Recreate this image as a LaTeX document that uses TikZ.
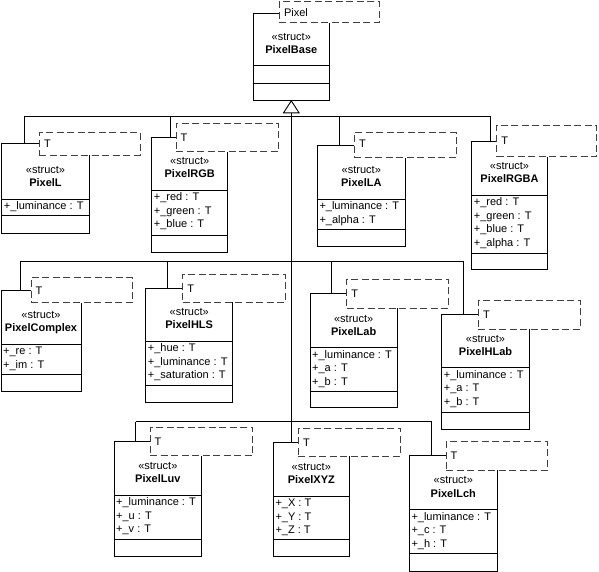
\documentclass[tikz,border=0pt]{standalone}
\usepackage{fontspec}
\setmainfont{Liberation Sans}
\usetikzlibrary{arrows.meta}
\newcommand\klass[8]{% id, left, top, right, bottom, line1, line2, name
  \node[cbox, minimum width={(#4)-(#2)}, minimum height={(#5)-(#3)}] (#1) at (#2,#3) {};
  \draw[cline] (#2,#6) -- (#4,#6);
  \draw[cline] (#2,#7) -- (#4,#7);
  \node[stereo] (#1-st) at ({(#2+#4)/2},{#6-29}) {«struct»};
  \node[cname] (#1-nm) at ({(#2+#4)/2},{#6-16}) {#8};
}
\newcommand\attrs[4]{% id, left, line1, list
  \foreach \a [count=\i] in {#4} \node[attr] (#1-a\i) at ({#2+2},{#3+8+13.5*(\i-1)}) {\a};
}
\newcommand\tmpl[7]{% id, left, top, right, bottom, text y, text
  \node[tbox, minimum width={(#4)-(#2)}, minimum height={(#5)-(#3)}] (#1) at (#2,#3) {};
  \node[ttext] (#1-t) at ({#2+4.5},#6) {#7};
}
\begin{document}
\begin{tikzpicture}[x=1pt,y=-1pt,
  cbox/.style={draw, line width=0.9pt, fill=white, inner sep=0pt, outer sep=0pt, anchor=north west},
  cline/.style={line width=0.9pt},
  tbox/.style={draw=black!75, line width=0.9pt, dash pattern=on 7pt off 3.5pt, fill=white, inner sep=0pt, outer sep=0pt, anchor=north west},
  ttext/.style={font=\fontsize{11}{13}\selectfont, anchor=west, inner sep=0pt},
  stereo/.style={font=\fontsize{11}{13}\selectfont, inner sep=0pt},
  cname/.style={font=\fontsize{11}{13}\selectfont\bfseries, inner sep=0pt},
  attr/.style={font=\fontsize{11}{13}\selectfont, anchor=west, inner sep=0pt},
  conn/.style={line width=0.9pt},
]
\useasboundingbox (0,0) rectangle (599,572);
\fill[white] (0,0) rectangle (599,572);

% class boxes
\klass{Base}{253.3}{13}{329.3}{100}{65.7}{83.3}{PixelBase}
\klass{L}{1.7}{143.3}{89.3}{233.3}{199}{215.7}{PixelL}
\attrs{L}{1.7}{199}{+\_luminance : T}
\klass{RGB}{151.7}{137.7}{227.7}{252.3}{190}{235}{PixelRGB}
\attrs{RGB}{151.7}{190}{+\_red : T,+\_green : T,+\_blue : T}
\klass{LA}{317.3}{145.7}{405.3}{246.7}{199}{229}{PixelLA}
\attrs{LA}{317.3}{199}{+\_luminance : T,+\_alpha : T}
\klass{RGBA}{471.7}{141.7}{547.3}{269}{195}{253.3}{PixelRGBA}
\attrs{RGBA}{471.7}{195}{+\_red : T,+\_green : T,+\_blue : T,+\_alpha : T}
\klass{Complex}{1}{290.7}{81}{391.7}{344.3}{374}{PixelComplex}
\attrs{Complex}{1}{344.3}{+\_re : T,+\_im : T}
\klass{HLS}{145.7}{288.3}{232.7}{402.3}{341}{385.7}{PixelHLS}
\attrs{HLS}{145.7}{341}{+\_hue : T,+\_luminance : T,+\_saturation : T}
\klass{Lab}{310}{293.3}{397.3}{407.7}{347.7}{391}{PixelLab}
\attrs{Lab}{310}{347.7}{+\_luminance : T,+\_a : T,+\_b : T}
\klass{HLab}{441.7}{314.3}{529.3}{429.3}{367.7}{412.3}{PixelHLab}
\attrs{HLab}{441.7}{367.7}{+\_luminance : T,+\_a : T,+\_b : T}
\klass{Luv}{114}{441.7}{201.7}{556}{495}{539}{PixelLuv}
\attrs{Luv}{114}{495}{+\_luminance : T,+\_u : T,+\_v : T}
\klass{XYZ}{273.3}{442.3}{349.3}{556.7}{496}{539.3}{PixelXYZ}
\attrs{XYZ}{273.3}{496}{+\_X : T,+\_Y : T,+\_Z : T}
\klass{Lch}{409.3}{455.7}{497.3}{571}{509.3}{553.3}{PixelLch}
\attrs{Lch}{409.3}{509.3}{+\_luminance : T,+\_c : T,+\_h : T}

% connectors
\coordinate (b1a) at (24,116);
\coordinate (b1b) at (170,116);
\coordinate (b1c) at (339.3,116);
\coordinate (b1d) at (490,116);
\coordinate (b2a) at (20.7,261);
\coordinate (b2b) at (167.7,261);
\coordinate (b2c) at (331.7,261);
\coordinate (b2d) at (463.3,261);
\coordinate (b3a) at (135.7,421.7);
\coordinate (b3c) at (431.7,421.7);
\draw[conn] (b1a) -- (b1d);
\draw[conn] (b2a) -- (b2d);
\draw[conn] (b3a) -- (b3c);
\draw[conn] (b1a) -- (b1a |- L.north);
\draw[conn] (b1b) -- (b1b |- RGB.north);
\draw[conn] (b1c) -- (b1c |- LA.north);
\draw[conn] (b1d) -- (b1d |- RGBA.north);
\draw[conn] (b2a) -- (b2a |- Complex.north);
\draw[conn] (b2b) -- (b2b |- HLS.north);
\draw[conn] (b2c) -- (b2c |- Lab.north);
\draw[conn] (b2d) -- (b2d |- HLab.north);
\draw[conn] (b3a) -- (b3a |- Luv.north);
\draw[conn] (b3c) -- (b3c |- Lch.north);
\draw[conn, -{Triangle[open, length=13.3pt, width=17pt, line width=0.9pt]}] (Base.south |- XYZ.north) -- (Base.south);

% templates
\tmpl{tBase}{279.3}{1.7}{379.3}{22.7}{13}{Pixel}
\tmpl{tL}{39.3}{132.7}{140}{155}{143.3}{T}
\tmpl{tRGB}{176}{123.3}{278.3}{151.7}{137.7}{T}
\tmpl{tLA}{354.3}{132.7}{456}{157.7}{143.5}{T}
\tmpl{tRGBA}{496.7}{125}{596.7}{156.7}{141}{T}
\tmpl{tComplex}{31}{277.7}{132.7}{302.7}{290.7}{T}
\tmpl{tHLS}{182.7}{274}{285}{302.3}{288.3}{T}
\tmpl{tLab}{346.7}{279.3}{448.3}{308.3}{293.3}{T}
\tmpl{tHLab}{478.3}{300}{580}{329}{314.3}{T}
\tmpl{tLuv}{150}{427.3}{252.7}{455.7}{441.7}{T}
\tmpl{tXYZ}{298.3}{428.3}{400.7}{456}{442.3}{T}
\tmpl{tLch}{446}{441.7}{547.7}{470}{455.7}{T}
\end{tikzpicture}
\end{document}
